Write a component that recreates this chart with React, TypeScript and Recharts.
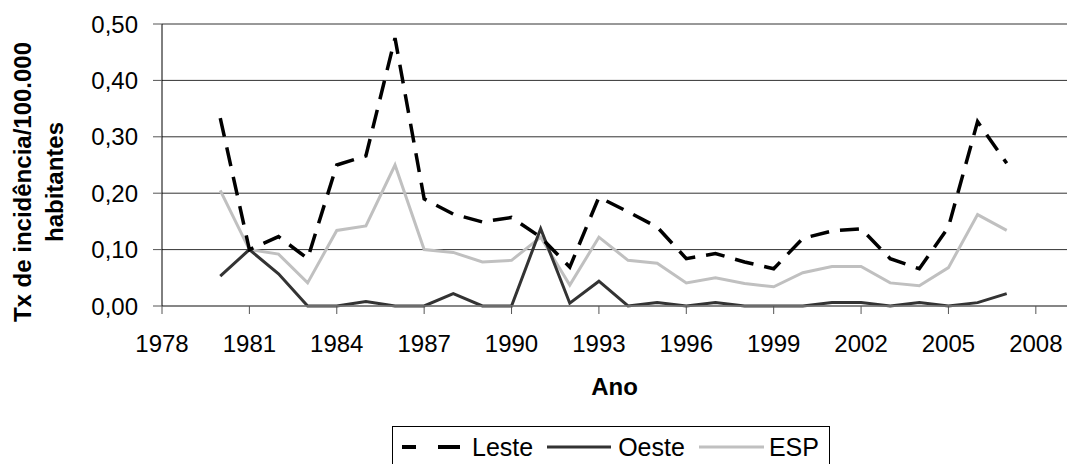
import { LineChart, Line, XAxis, YAxis, CartesianGrid, Label } from 'recharts'

const YEARS = [1980, 1981, 1982, 1983, 1984, 1985, 1986, 1987, 1988, 1989, 1990, 1991, 1992, 1993,
  1994, 1995, 1996, 1997, 1998, 1999, 2000, 2001, 2002, 2003, 2004, 2005, 2006, 2007]

const LESTE = [0.333, 0.1, 0.123, 0.084, 0.25, 0.266, 0.475, 0.19, 0.163, 0.149, 0.157, 0.122, 0.069, 0.193,
  0.167, 0.14, 0.084, 0.093, 0.078, 0.066, 0.12, 0.133, 0.137, 0.084, 0.066, 0.14, 0.327, 0.253]

const OESTE = [0.053, 0.1, 0.057, 0, 0, 0.008, 0, 0, 0.022, 0, 0, 0.137, 0.005, 0.044,
  0, 0.006, 0, 0.006, 0, 0, 0, 0.006, 0.006, 0, 0.006, 0, 0.006, 0.022]

const ESP = [0.205, 0.1, 0.092, 0.041, 0.134, 0.142, 0.25, 0.1, 0.095, 0.078, 0.081, 0.122, 0.037, 0.122,
  0.081, 0.076, 0.041, 0.05, 0.04, 0.034, 0.059, 0.07, 0.07, 0.041, 0.036, 0.068, 0.162, 0.134]

const X_TICKS = [1978, 1981, 1984, 1987, 1990, 1993, 1996, 1999, 2002, 2005, 2008]
const Y_TICKS = [0, 0.1, 0.2, 0.3, 0.4, 0.5]

const data = YEARS.map((ano, i) => ({ ano, leste: LESTE[i], oeste: OESTE[i], esp: ESP[i] }))

const FONT = '"Liberation Sans", Arial, sans-serif'
const tickStyle = { fontSize: 24, fill: '#000', fontFamily: FONT }

function YTitle() {
  return (
    <g fontFamily={FONT} fontSize={24} fontWeight="bold" fill="#000">
      <text x={31} y={182} transform="rotate(-90, 31, 182)" textAnchor="middle">
        Tx de incidência/100.000
      </text>
      <text x={63} y={182} transform="rotate(-90, 63, 182)" textAnchor="middle">
        habitantes
      </text>
    </g>
  )
}

function LegendBox() {
  const item = (sample: JSX.Element, w: number, gap: number, label: string, after: number) => (
    <span style={{ display: 'flex', alignItems: 'center', marginRight: after }}>
      <svg width={w} height={6} style={{ marginRight: gap }}>{sample}</svg>
      {label}
    </span>
  )
  return (
    <div
      style={{
        position: 'absolute',
        left: 392,
        top: 426,
        width: 438,
        height: 50,
        border: '1px solid #000',
        boxSizing: 'border-box',
        display: 'flex',
        alignItems: 'flex-start',
        paddingLeft: 9,
        paddingTop: 6,
        fontFamily: FONT,
        fontSize: 25,
        lineHeight: '28px',
        background: '#fff',
      }}
    >
      {item(
        <g stroke="#000" strokeWidth={4}>
          <line x1={0} y1={3} x2={14} y2={3} />
          <line x1={36} y1={3} x2={58} y2={3} />
        </g>,
        59, 11, 'Leste', 14
      )}
      {item(<line x1={0} y1={3} x2={64} y2={3} stroke="#333" strokeWidth={3} />, 64, 7, 'Oeste', 14)}
      {item(<line x1={0} y1={3} x2={65} y2={3} stroke="#c0c0c0" strokeWidth={3} />, 65, 5, 'ESP', 0)}
    </div>
  )
}

export default function App() {
  return (
    <div style={{ position: 'absolute', left: 0, top: 0, width: 1067, height: 464, background: '#fff', overflow: 'hidden' }}>
      <LineChart width={1067} height={464} data={data} margin={{ top: 24, right: 0, bottom: 0, left: 0 }}>
        <CartesianGrid horizontal vertical={false} stroke="#333" strokeWidth={1} />
        <XAxis
          dataKey="ano"
          type="number"
          domain={[1978, 2009.07]}
          ticks={X_TICKS}
          allowDataOverflow
          height={158}
          tick={tickStyle}
          tickSize={8}
          tickMargin={21}
          stroke="#808080"
          axisLine={{ stroke: '#808080', strokeWidth: 1.5 }}
          tickLine={{ stroke: '#555' }}
        >
          <Label
            content={({ viewBox }: any) => (
              <text
                x={viewBox.x + viewBox.width / 2}
                y={395}
                textAnchor="middle"
                fontFamily={FONT}
                fontSize={24}
                fontWeight="bold"
                fill="#000"
              >
                Ano
              </text>
            )}
          />
        </XAxis>
        <YAxis
          type="number"
          domain={[0, 0.5]}
          ticks={Y_TICKS}
          width={162}
          tick={tickStyle}
          tickSize={9}
          tickMargin={15}
          tickFormatter={(v: number) => v.toFixed(2).replace('.', ',')}
          axisLine={{ stroke: '#000' }}
          tickLine={{ stroke: '#555' }}
        >
          <Label content={() => <YTitle />} />
        </YAxis>
        <Line
          type="linear"
          dataKey="esp"
          stroke="#c0c0c0"
          strokeWidth={3}
          dot={false}
          isAnimationActive={false}
        />
        <Line
          type="linear"
          dataKey="oeste"
          stroke="#333"
          strokeWidth={3}
          dot={false}
          isAnimationActive={false}
        />
        <Line
          type="linear"
          dataKey="leste"
          stroke="#000"
          strokeWidth={3.5}
          strokeDasharray="19 11"
          dot={false}
          isAnimationActive={false}
        />
      </LineChart>
      <LegendBox />
    </div>
  )
}
